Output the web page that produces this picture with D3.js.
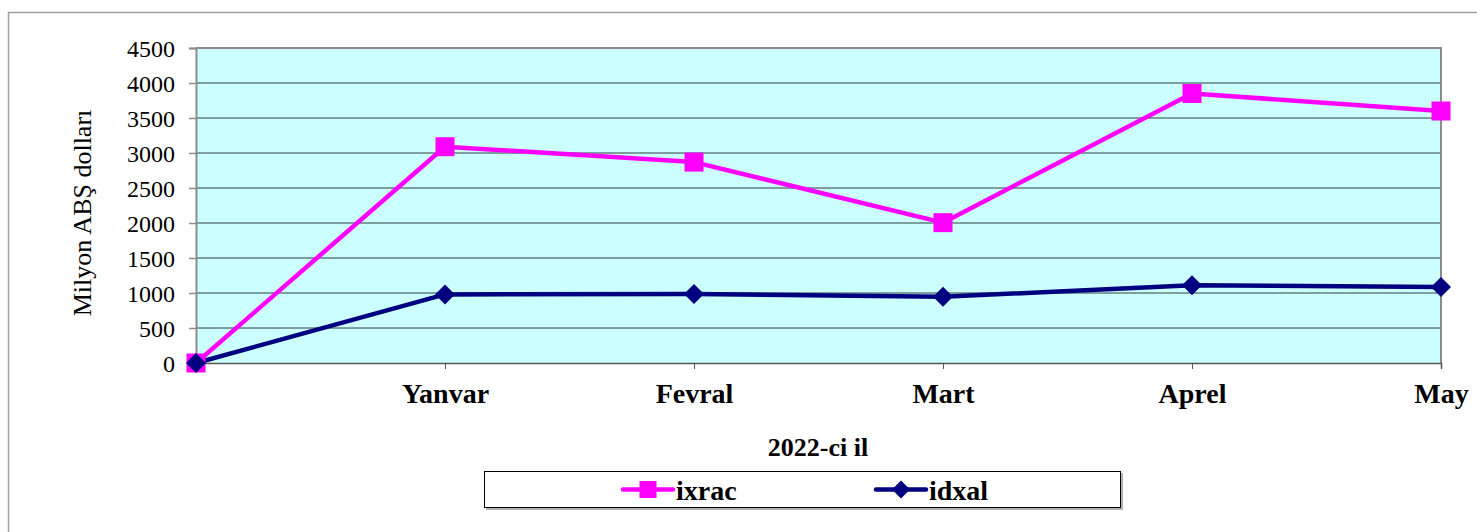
<!DOCTYPE html>
<html>
<head>
<meta charset="utf-8">
<script src="https://cdn.jsdelivr.net/npm/d3@7"></script>
<style>
  html, body { margin: 0; padding: 0; background: #fff; }
  svg { display: block; }
</style>
</head>
<body>
<svg id="chart" width="1477" height="532"></svg>
<script>
const categories = ["", "Yanvar", "Fevral", "Mart", "Aprel", "May"];
const ixrac = [0, 3090, 2870, 2005, 3850, 3600];
const idxal = [0, 980, 985, 945, 1110, 1085];
const yTicks = [0, 500, 1000, 1500, 2000, 2500, 3000, 3500, 4000, 4500];
const seriesNames = ["ixrac", "idxal"];
const yTitle = "Milyon ABŞ dolları";
const xTitle = "2022-ci il";

const FONT = "'Liberation Serif', 'Times New Roman', serif";
const svg = d3.select("#chart");
const W = 1477, H = 532;
const plot = { left: 196, right: 1441, top: 48, bottom: 363 };

const x = d3.scalePoint().domain(categories).range([plot.left, plot.right]);
const y = d3.scaleLinear().domain([0, 4500]).range([plot.bottom, plot.top]);

// outer chart border
svg.append("rect")
  .attr("x", 8.5).attr("y", 12.5)
  .attr("width", W + 20).attr("height", H + 20)
  .attr("fill", "#fff").attr("stroke", "#a0a0a0").attr("stroke-width", 1.5);

// plot area
svg.append("rect")
  .attr("x", plot.left).attr("y", plot.top)
  .attr("width", plot.right - plot.left).attr("height", plot.bottom - plot.top)
  .attr("fill", "#CCFFFF");

// gridlines
svg.append("g").selectAll("line")
  .data(yTicks.filter(d => d > 0 && d < 4500))
  .join("line")
  .attr("x1", plot.left).attr("x2", plot.right)
  .attr("y1", d => y(d)).attr("y2", d => y(d))
  .attr("stroke", "#2f3f3f").attr("stroke-width", 1);

// plot border (top + right gray)
svg.append("path")
  .attr("d", `M${plot.left},${plot.top}H${plot.right}V${plot.bottom}`)
  .attr("fill", "none").attr("stroke", "#8c8c8c").attr("stroke-width", 2);

// y axis
const yAxis = d3.axisLeft(y).tickValues(yTicks).tickSize(7).tickPadding(14).tickFormat(d3.format("d"));
const gy = svg.append("g").attr("transform", `translate(${plot.left},0)`).call(yAxis)
  .attr("font-family", FONT);
gy.select(".domain").attr("stroke", "#8c8c8c").attr("stroke-width", 2);
gy.selectAll(".tick line").attr("stroke", "#8c8c8c").attr("stroke-width", 1.5);
gy.selectAll(".tick text")
  .style("font-family", FONT)
  .attr("font-size", 24).attr("fill", "#000").attr("dy", "0.34em");

// x axis
const xAxis = d3.axisBottom(x).tickSize(6).tickPadding(14);
const gx = svg.append("g").attr("transform", `translate(0,${plot.bottom})`).call(xAxis)
  .attr("font-family", FONT);
gx.select(".domain").attr("stroke", "#555").attr("stroke-width", 1.5);
gx.selectAll(".tick line").attr("stroke", "#555").attr("stroke-width", 1);
gx.selectAll(".tick text")
  .style("font-family", FONT)
  .attr("font-size", 28).attr("font-weight", "bold").attr("fill", "#000")
  .attr("dy", "0.71em");

// axis titles
svg.append("text")
  .attr("transform", `translate(91,213) rotate(-90)`)
  .attr("text-anchor", "middle").attr("font-size", 26)
  .style("font-family", FONT)
  .text(yTitle);

svg.append("text")
  .attr("x", 818).attr("y", 456)
  .attr("text-anchor", "middle").attr("font-size", 26).attr("font-weight", "bold")
  .style("font-family", FONT)
  .text(xTitle);

// series
const line = d3.line().x((d, i) => x(categories[i])).y(d => y(d));
const colors = { ixrac: "#FF00FF", idxal: "#000080" };

svg.append("path").datum(ixrac)
  .attr("d", line).attr("fill", "none")
  .attr("stroke", colors.ixrac).attr("stroke-width", 4.5).attr("stroke-linejoin", "round");
svg.append("path").datum(idxal)
  .attr("d", line).attr("fill", "none")
  .attr("stroke", colors.idxal).attr("stroke-width", 4.5).attr("stroke-linejoin", "round");

const sq = 19;
svg.append("g").selectAll("rect").data(ixrac).join("rect")
  .attr("x", (d, i) => x(categories[i]) - sq / 2)
  .attr("y", d => y(d) - sq / 2)
  .attr("width", sq).attr("height", sq)
  .attr("fill", colors.ixrac);

const diamond = (cx, cy, r) => `M${cx},${cy - r}L${cx + r},${cy}L${cx},${cy + r}L${cx - r},${cy}Z`;
svg.append("g").selectAll("path").data(idxal).join("path")
  .attr("d", (d, i) => diamond(x(categories[i]), y(d), 10))
  .attr("fill", colors.idxal);

// legend
const lg = svg.append("g");
lg.append("rect").attr("x", 486).attr("y", 473).attr("width", 637).attr("height", 37)
  .attr("fill", "#b0b0b0");
lg.append("rect").attr("x", 484.5).attr("y", 471.5).attr("width", 636).attr("height", 36)
  .attr("fill", "#fff").attr("stroke", "#000").attr("stroke-width", 1);

const legendItems = [
  { name: seriesNames[0], x0: 623, color: colors.ixrac, marker: "square" },
  { name: seriesNames[1], x0: 876, color: colors.idxal, marker: "diamond" }
];
const ly = 489.5;
legendItems.forEach(it => {
  lg.append("line").attr("x1", it.x0).attr("x2", it.x0 + 50)
    .attr("y1", ly).attr("y2", ly)
    .attr("stroke", it.color).attr("stroke-width", 4.5).attr("stroke-linecap", "round");
  if (it.marker === "square") {
    lg.append("rect").attr("x", it.x0 + 25 - 8.5).attr("y", ly - 8.5)
      .attr("width", 17).attr("height", 17).attr("fill", it.color);
  } else {
    lg.append("path").attr("d", diamond(it.x0 + 25, ly, 9)).attr("fill", it.color);
  }
  lg.append("text").attr("x", it.x0 + 53).attr("y", ly + 10)
    .attr("font-size", 28).attr("font-weight", "bold")
    .style("font-family", FONT)
    .text(it.name);
});
</script>
</body>
</html>
